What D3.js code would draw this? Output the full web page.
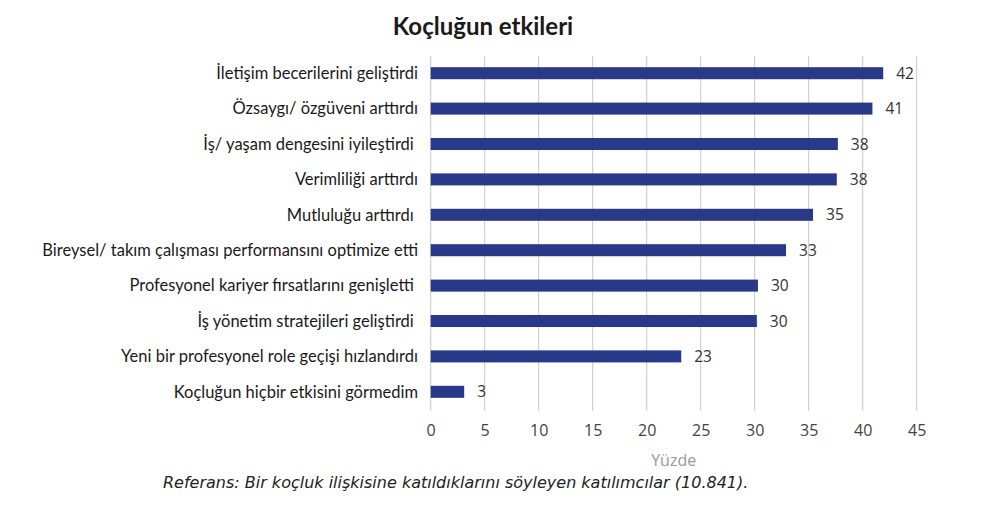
<!DOCTYPE html>
<html><head><meta charset="utf-8">
<script src="https://cdn.jsdelivr.net/npm/d3@7"></script>
<style>
body{margin:0;background:#fff;}
svg{display:block;}
text{white-space:pre;}
</style></head>
<body>
<svg id="c" width="981" height="522"></svg>
<script>
const categories = [
  "İletişim becerilerini geliştirdi",
  "Özsaygı/ özgüveni arttırdı",
  "İş/ yaşam dengesini iyileştirdi ",
  "Verimliliği arttırdı",
  "Mutluluğu arttırdı ",
  "Bireysel/ takım çalışması performansını optimize etti",
  "Profesyonel kariyer fırsatlarını genişletti ",
  "İş yönetim stratejileri geliştirdi ",
  "Yeni bir profesyonel role geçişi hızlandırdı",
  "Koçluğun hiçbir etkisini görmedim"
];
const values = [41.9, 40.9, 37.7, 37.6, 35.4, 32.9, 30.3, 30.2, 23.2, 3.1];
const valueLabels = ["42", "41", "38", "38", "35", "33", "30", "30", "23", "3"];
const xTicks = [0, 5, 10, 15, 20, 25, 30, 35, 40, 45];
const title = "Koçluğun etkileri";
const xTitle = "Yüzde";
const footnote = "Referans: Bir koçluk ilişkisine katıldıklarını söyleyen katılımcılar (10.841).";

const svg = d3.select("#c");
const x = d3.scaleLinear().domain([0, 45]).range([430.7, 916.7]);
const y = d3.scaleBand().domain(categories).range([55.5, 409.5]).paddingInner(0.66).paddingOuter(0.33);

// gridlines
svg.append("g").selectAll("line").data(xTicks).join("line")
  .attr("x1", d => x(d)).attr("x2", d => x(d))
  .attr("y1", 56).attr("y2", 411)
  .attr("stroke", "#c8c8c8").attr("stroke-width", 1);

// bars
svg.append("g").selectAll("rect").data(values).join("rect")
  .attr("x", x(0))
  .attr("y", (d, i) => y(categories[i]))
  .attr("width", d => x(d) - x(0))
  .attr("height", y.bandwidth())
  .attr("fill", "#293989");

// value labels
svg.append("g").selectAll("text").data(values).join("text")
  .attr("x", d => x(d) + 13)
  .attr("y", (d, i) => y(categories[i]) + y.bandwidth() / 2)
  .attr("dy", "0.36em")
  .attr("font-family", "'Open Sans', sans-serif")
  .attr("font-size", 15.5)
  .attr("fill", "#333")
  .text((d, i) => valueLabels[i]);

// category labels
svg.append("g").selectAll("text").data(categories).join("text")
  .attr("x", 418)
  .attr("y", d => y(d) + y.bandwidth() / 2)
  .attr("dy", "0.35em")
  .attr("text-anchor", "end")
  .attr("font-family", "Lato, 'Open Sans', sans-serif")
  .attr("font-size", 16.5)
  .attr("fill", "#1a1a1a")
  .text(d => d);

// x axis tick labels
const xAxis = d3.axisBottom(x).tickValues(xTicks).tickSize(0).tickPadding(0);
const ax = svg.append("g").attr("transform", "translate(0,425)").call(xAxis);
ax.select(".domain").remove();
ax.selectAll("text")
  .attr("font-family", "'Open Sans', sans-serif")
  .attr("font-size", 16)
  .attr("fill", "#444");

svg.append("text").attr("x", x(22.5)).attr("y", 466)
  .attr("text-anchor", "middle")
  .attr("font-family", "'Open Sans', sans-serif")
  .attr("font-size", 16).attr("fill", "#999").text(xTitle);

svg.append("text").attr("x", 483).attr("y", 35)
  .attr("text-anchor", "middle")
  .attr("font-family", "Lato, sans-serif").attr("font-weight", "bold")
  .attr("font-size", 24).attr("fill", "#1a1a1a").text(title);

svg.append("text").attr("x", 163).attr("y", 488)
  .attr("font-family", "'DejaVu Sans', Verdana, sans-serif").attr("font-style", "italic")
  .attr("font-size", 16).attr("fill", "#222").text(footnote);
</script>
</body></html>
